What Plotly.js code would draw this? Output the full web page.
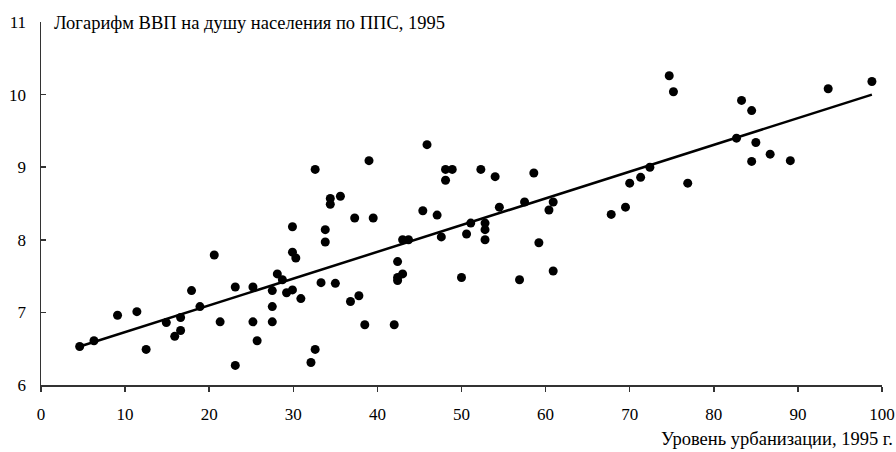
<!DOCTYPE html>
<html>
<head>
<meta charset="utf-8">
<script src="https://cdn.plot.ly/plotly-3.0.1.min.js"></script>
<style>html,body{margin:0;padding:0;background:#fff;}#chart{width:896px;height:452px;}</style>
</head>
<body>
<div id="chart"></div>
<script>
// Urbanization level, 1995 (%)
const urbanX = [4.6,6.3,9.1,11.4,12.5,14.9,15.9,16.6,16.6,17.9,18.9,20.6,21.3,23.1,23.1,25.2,25.2,25.7,27.5,27.5,27.5,28.1,28.7,29.2,29.9,29.9,29.9,30.3,30.9,32.1,32.6,32.6,33.3,33.8,33.8,34.4,34.4,35.6,35.0,36.8,37.3,37.8,38.5,39.0,39.5,42.0,42.4,43.0,42.4,42.4,43.0,43.7,45.4,45.9,47.1,47.6,48.1,48.9,48.1,50.0,50.6,51.1,52.3,52.8,52.8,52.8,54.0,54.5,56.9,57.5,58.6,59.2,60.4,60.9,60.9,67.8,69.5,70.0,71.3,72.4,74.7,75.2,76.9,82.7,83.3,84.5,84.5,85.0,86.7,89.1,93.6,98.8];
// Log GDP per capita (PPP), 1995
const logGdpY = [6.53,6.61,6.96,7.01,6.49,6.86,6.67,6.93,6.75,7.30,7.08,7.79,6.87,7.35,6.27,7.35,6.87,6.61,7.30,7.08,6.87,7.53,7.45,7.27,7.31,8.18,7.83,7.75,7.19,6.31,6.49,8.97,7.41,8.14,7.97,8.57,8.49,8.60,7.40,7.15,8.30,7.23,6.83,9.09,8.30,6.83,7.70,7.53,7.48,7.44,8.00,8.00,8.40,9.31,8.34,8.04,8.97,8.97,8.82,7.48,8.08,8.23,8.97,8.23,8.14,8.00,8.87,8.45,7.45,8.52,8.92,7.96,8.41,8.52,7.57,8.35,8.45,8.78,8.86,9.00,10.26,10.04,8.78,9.40,9.92,9.78,9.08,9.34,9.18,9.09,10.08,10.18];
// Trend line endpoints
const trendX = [4.6, 98.8];
const trendY = [6.53, 10.0];
const xTicks = [0,10,20,30,40,50,60,70,80,90,100];
const yTicks = [6,7,8,9,10,11];
const yTitle = 'Логарифм ВВП на душу населения по ППС, 1995';
const xTitle = 'Уровень урбанизации, 1995 г.';

const FONT = 'Liberation Serif, Times New Roman, serif';

const traces = [
  {x: trendX, y: trendY, mode: 'lines', line: {color: '#000', width: 2.5}, hoverinfo: 'skip'},
  {x: urbanX, y: logGdpY, mode: 'markers', marker: {color: '#000', size: 9}}
];

const layout = {
  width: 896, height: 452,
  margin: {l: 41, r: 14, t: 22, b: 67},
  paper_bgcolor: '#fff', plot_bgcolor: '#fff',
  showlegend: false,
  font: {family: FONT, size: 17, color: '#000'},
  xaxis: {
    range: [0, 100], tickvals: xTicks, ticktext: xTicks.map(String),
    showgrid: false, zeroline: false, showline: true, linecolor: '#333', linewidth: 1.5,
    ticks: 'outside', ticklen: 5, tickwidth: 1.5, tickcolor: '#333',
    ticklabelstandoff: 8,
    tickfont: {family: FONT, size: 17, color: '#000'}
  },
  yaxis: {
    range: [6, 11], tickvals: yTicks, ticktext: yTicks.map(String),
    showgrid: false, zeroline: false, showline: true, linecolor: '#333', linewidth: 1.5,
    ticks: 'inside', ticklen: 5, tickwidth: 1.5, tickcolor: '#333',
    ticklabelstandoff: 10,
    tickfont: {family: FONT, size: 17, color: '#000'}
  },
  annotations: [
    {text: yTitle, xref: 'paper', yref: 'paper', x: 0.0125, y: 0.998, xanchor: 'left', yanchor: 'middle',
     showarrow: false, font: {family: FONT, size: 18.5, color: '#000'}},
    {text: xTitle, xref: 'paper', yref: 'paper', x: 1.016, y: -0.149, xanchor: 'right', yanchor: 'middle',
     showarrow: false, font: {family: FONT, size: 18.5, color: '#000'}}
  ]
};

Plotly.newPlot('chart', traces, layout, {displayModeBar: false, staticPlot: true});
</script>
</body>
</html>
